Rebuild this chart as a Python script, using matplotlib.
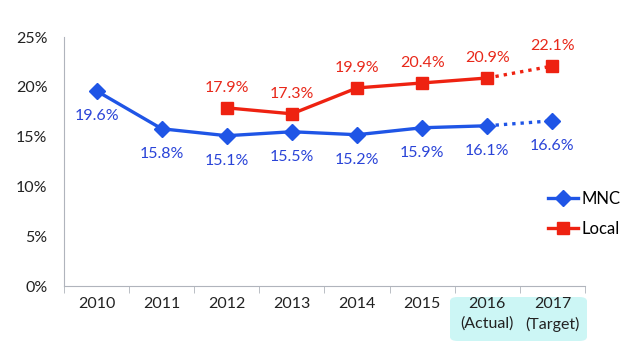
import numpy as np
import matplotlib.pyplot as plt
from matplotlib.patches import FancyBboxPatch

# Data
years = ["2010", "2011", "2012", "2013", "2014", "2015", "2016\n(Actual)", "2017\n(Target)"]
mnc = [19.6, 15.8, 15.1, 15.5, 15.2, 15.9, 16.1, 16.6]
local_years = [2, 3, 4, 5, 6, 7]
local = [17.9, 17.3, 19.9, 20.4, 20.9, 22.1]

blue = "#1f55e6"
red = "#ee2211"
plt.rcParams['font.family'] = ['Lato', 'DejaVu Sans']

fig = plt.figure(figsize=(6.4, 3.54), dpi=100)
ax = fig.add_axes([0.1, 0.192, 0.814, 0.703])
ax.patch.set_alpha(0)

x = np.arange(len(years))
# solid actual part, dotted target part
ax.plot(x[:-1], mnc[:-1], color=blue, lw=2.4, marker="D", ms=8, label="MNC")
ax.plot(x[-2:], mnc[-2:], color=blue, lw=2.4, ls=(0, (1, 1.5)))
ax.plot(x[-1], mnc[-1], color=blue, marker="D", ms=8)

lx = np.array(local_years)
ax.plot(lx[:-1], local[:-1], color=red, lw=2.4, marker="s", ms=8, label="Local")
ax.plot(lx[-2:], local[-2:], color=red, lw=2.4, ls=(0, (1, 1.5)))
ax.plot(lx[-1], local[-1], color=red, marker="s", ms=8)

for xi, v in zip(x, mnc):
    ax.annotate(f"{v}%", (xi, v), xytext=(0, -18), textcoords="offset points",
                ha="center", va="center", color="#2a44d8", fontsize=11.5)
for xi, v in zip(lx, local):
    ax.annotate(f"{v}%", (xi, v), xytext=(0, 14.5), textcoords="offset points",
                ha="center", va="center", color="#e8281a", fontsize=11.5)

ax.set_xlim(-0.5, len(years) - 0.5)
ax.set_ylim(0, 25)
ax.set_yticks(np.arange(0, 26, 5))
ax.set_yticklabels([f"{t}%" for t in range(0, 26, 5)], fontsize=11.5, color="#222222")
ax.tick_params(axis="y", length=0, pad=12)

ax.set_xticks(x)
ax.set_xticklabels(years, fontsize=11.5, va="top", linespacing=1.45, color="#222222")
ax.set_xticks(np.arange(-0.5, len(years), 1), minor=True)
ax.tick_params(axis="x", which="major", length=0, pad=8)
ax.tick_params(axis="x", which="minor", length=5, color="#b0b4bc")

for s in ["top", "right"]:
    ax.spines[s].set_visible(False)
for s in ["left", "bottom"]:
    ax.spines[s].set_color("#b0b4bc")

# highlight box behind the 2016/2017 labels
box = FancyBboxPatch((450 / 640, 13 / 354), 137 / 640, 44 / 354,
                     boxstyle="round,pad=0,rounding_size=0.012",
                     transform=fig.transFigure, facecolor="#ccf6f5",
                     edgecolor="none", zorder=-5, clip_on=False)
ax.add_patch(box)

ax.legend(loc="center left", bbox_to_anchor=(0.9, 0.29), frameon=False,
          fontsize=12, handlelength=1.8, handletextpad=0.2, labelspacing=0.85)

fig.savefig("out.png", dpi=100)
